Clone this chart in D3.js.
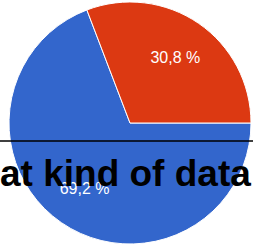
<!DOCTYPE html>
<html>
<head>
<meta charset="utf-8">
<script src="https://cdn.jsdelivr.net/npm/d3@7"></script>
<style>
  html, body { margin: 0; padding: 0; background: #fff; overflow: hidden; }
</style>
</head>
<body>
<svg id="chart" width="253" height="245"></svg>
<script>
const categories = ['A', 'B']
const values = [69.2, 30.8]
const labels = ['69,2 %', '30,8 %']
const colors = ['#3366cc', '#dc3912']
const title = 'at kind of data'

const c = {
  width: 253,
  height: 245,
  cx: 130,
  cy: 123,
  radius: 121,
  labelRadius: 80,
  fontSize: 16,
  titleSize: 37
}

const svg = d3.select('#chart')

const colorScale = d3.scaleOrdinal(categories, colors)

// first slice starts at 3 o'clock, clockwise
const pie = d3.pie()
  .sort(null)
  .value((d) => d.value)
  .startAngle(Math.PI / 2)
  .endAngle(Math.PI / 2 + 2 * Math.PI)

const data = categories.map((key, i) => ({ key, value: values[i], label: labels[i] }))
const arcs = pie(data)

const arc = d3.arc().innerRadius(0).outerRadius(c.radius)
const labelArc = d3.arc().innerRadius(c.labelRadius).outerRadius(c.labelRadius)

const plot = svg.append('g')
  .attr('transform', `translate(${ c.cx },${ c.cy })`)

plot.selectAll('path')
  .data(arcs)
  .join('path')
  .attr('d', arc)
  .attr('fill', (d) => colorScale(d.data.key))
  .attr('stroke', '#fff')
  .attr('stroke-width', 1)

plot.selectAll('text')
  .data(arcs)
  .join('text')
  .attr('transform', (d) => `translate(${ labelArc.centroid(d) })`)
  .attr('text-anchor', 'middle')
  .attr('dy', '0.35em')
  .attr('fill', '#fff')
  .attr('font-family', 'Arial, "Liberation Sans", sans-serif')
  .attr('font-size', c.fontSize)
  .text((d) => d.data.label)

// divider line
svg.append('line')
  .attr('x1', 0)
  .attr('x2', c.width)
  .attr('y1', 141)
  .attr('y2', 141)
  .attr('stroke', '#000')
  .attr('stroke-width', 1.5)

svg.append('text')
  .attr('x', 0)
  .attr('y', 186)
  .attr('font-family', 'Arial, "Liberation Sans", sans-serif')
  .attr('font-weight', 'bold')
  .attr('font-size', c.titleSize)
  .attr('fill', '#000')
  .text(title)
</script>
</body>
</html>
